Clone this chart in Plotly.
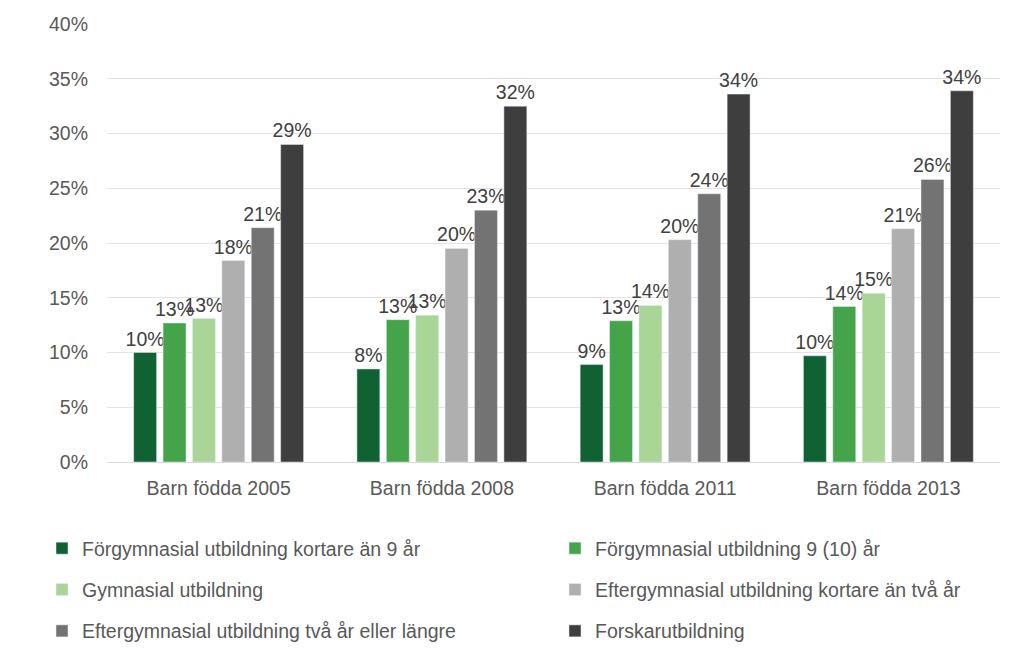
import plotly.graph_objects as go

categories = ["Barn födda 2005", "Barn födda 2008", "Barn födda 2011", "Barn födda 2013"]
series_names = [
    "Förgymnasial utbildning kortare än 9 år",
    "Förgymnasial utbildning 9 (10) år",
    "Gymnasial utbildning",
    "Eftergymnasial utbildning kortare än två år",
    "Eftergymnasial utbildning två år eller längre",
    "Forskarutbildning",
]
s1 = [0.100, 0.085, 0.089, 0.097]
s2 = [0.127, 0.130, 0.129, 0.142]
s3 = [0.131, 0.134, 0.143, 0.154]
s4 = [0.184, 0.195, 0.203, 0.213]
s5 = [0.214, 0.230, 0.245, 0.258]
s6 = [0.290, 0.325, 0.336, 0.339]
series_values = [s1, s2, s3, s4, s5, s6]
colors = ["#116233", "#45a449", "#a9d597", "#afafaf", "#737373", "#3e3e3e"]

FONT = "Liberation Sans, Arial, sans-serif"
FS = 19.5
W, H = 1016, 663  # page body has an 8px margin

fig = go.Figure()
for i, (name, vals, col) in enumerate(zip(series_names, series_values, colors)):
    fig.add_trace(go.Bar(
        x=categories, y=vals, name=name, marker_color=col,
        text=[f"{round(v*100):.0f}%" for v in vals],
        textposition="outside", cliponaxis=False, constraintext="none",
        textfont=dict(family=FONT, size=FS, color="#404040"),
        legend="legend" if i % 2 == 0 else "legend2",
        legendgroup=f"g{i}",
    ))

legend_common = dict(
    orientation="v", bgcolor="rgba(0,0,0,0)",
    font=dict(family=FONT, size=FS, color="#595959"),
    tracegroupgap=13, itemwidth=30, xanchor="left", yanchor="top",
    xref="container", yref="container",
)
fig.update_layout(
    width=W, height=H,
    margin=dict(l=99, r=24, t=16, b=209, autoexpand=False),
    paper_bgcolor="white", plot_bgcolor="white",
    barmode="group", bargap=0.21, bargroupgap=0.22,
    showlegend=True,
    legend=dict(x=34/W, y=1 - 521/H, **legend_common),
    legend2=dict(x=547/W, y=1 - 521/H, **legend_common),
    font=dict(family=FONT, size=FS, color="#595959"),
    xaxis=dict(showgrid=False, showline=True, linecolor="#d9d9d9", linewidth=1,
               ticks="", tickangle=0, tickfont=dict(family=FONT, size=FS, color="#595959"),
               ticklabelstandoff=9),
    yaxis=dict(range=[0, 0.40], dtick=0.05, tickformat=".0%", showgrid=True,
               gridcolor="#e3e3e3", gridwidth=1, zeroline=False, showline=False,
               ticks="", tickfont=dict(family=FONT, size=FS, color="#595959"),
               ticklabelstandoff=18),
)

fig.write_html("out.html")
